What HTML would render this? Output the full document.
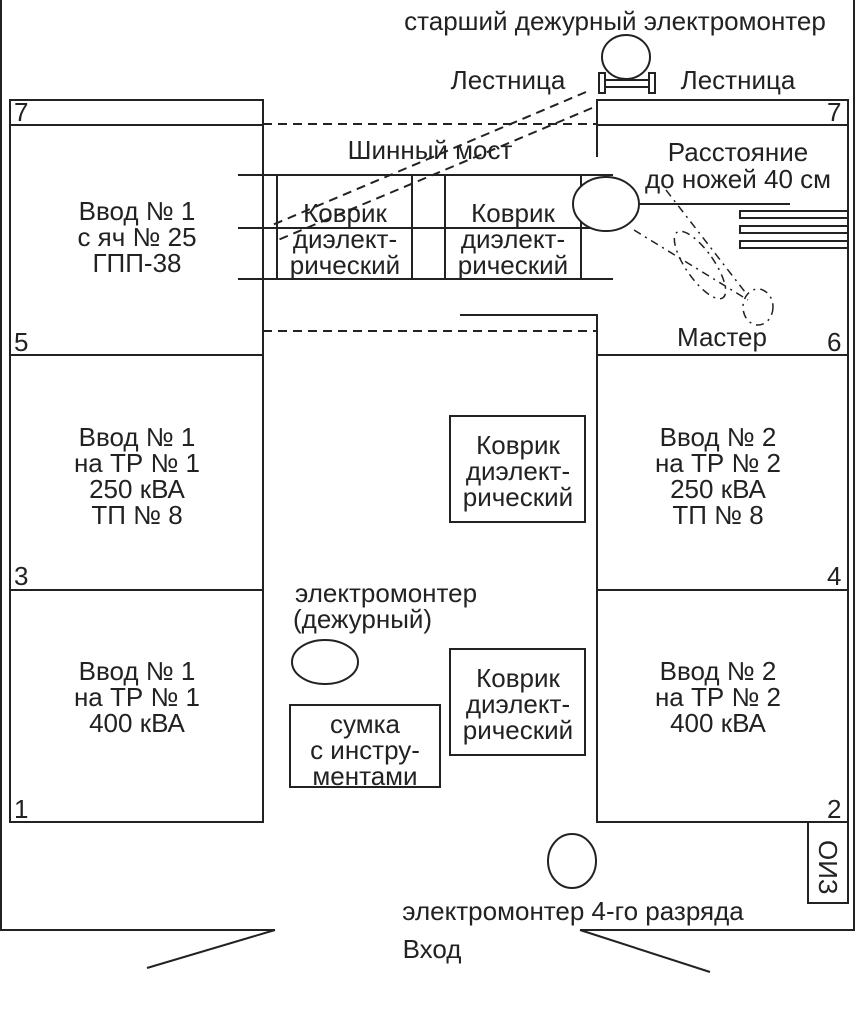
<!DOCTYPE html>
<html><head><meta charset="utf-8"><style>
html,body{margin:0;padding:0;background:#fff}
svg{display:block}
text{font-family:"Liberation Sans",sans-serif;font-size:26px;fill:#222}
</style></head><body>
<svg width="856" height="1024" viewBox="0 0 856 1024" xmlns="http://www.w3.org/2000/svg">
<g stroke="#222" stroke-width="2" fill="none">
<polyline points="1,0 1,930 275,930"/>
<polyline points="580,930 854,930 854,0"/>
<line x1="275" y1="930" x2="147" y2="968"/>
<line x1="580" y1="930" x2="710" y2="972"/>
<rect x="10" y="100" width="253" height="722"/>
<line x1="10" y1="125" x2="263" y2="125"/>
<line x1="10" y1="355" x2="263" y2="355"/>
<line x1="10" y1="590" x2="263" y2="590"/>
<polyline points="597,157 597,100 848,100 848,822 597,822 597,315 460,315"/>
<line x1="597" y1="125" x2="848" y2="125"/>
<line x1="597" y1="355" x2="848" y2="355"/>
<line x1="597" y1="590" x2="848" y2="590"/>
<line x1="263" y1="124" x2="596" y2="124" stroke-dasharray="9,6"/>
<line x1="263" y1="331" x2="596" y2="331" stroke-dasharray="9,6"/>
<line x1="586" y1="92" x2="270" y2="226" stroke-dasharray="9,6"/>
<line x1="592" y1="108" x2="278" y2="240" stroke-dasharray="9,6"/>
<line x1="238" y1="175" x2="613" y2="175"/>
<line x1="238" y1="228" x2="613" y2="228"/>
<line x1="238" y1="279" x2="613" y2="279"/>
<rect x="277" y="175" width="135" height="104"/>
<rect x="445" y="175" width="136" height="104"/>
<ellipse cx="606" cy="204" rx="33" ry="27" fill="#fff"/>
<line x1="639" y1="204" x2="790" y2="204"/>
<rect x="740" y="211" width="108" height="7"/>
<rect x="740" y="226" width="108" height="7"/>
<rect x="740" y="241" width="108" height="7"/>
<g stroke-dasharray="8,5,2,5" stroke-width="1.5">
<ellipse cx="758" cy="307" rx="15" ry="18"/>
<line x1="634" y1="230" x2="748" y2="300"/>
<line x1="666" y1="190" x2="745" y2="292"/>
<ellipse cx="700" cy="265" rx="14" ry="40" transform="rotate(-35 700 265)"/>
</g>
<ellipse cx="626" cy="57" rx="24" ry="22"/>
<rect x="599" y="73" width="6" height="20"/>
<rect x="649" y="73" width="6" height="20"/>
<rect x="605" y="80" width="44" height="7"/>
<rect x="450" y="416" width="135" height="106"/>
<rect x="450" y="649" width="135" height="106"/>
<rect x="290" y="705" width="150" height="82"/>
<ellipse cx="325" cy="662" rx="33" ry="22"/>
<ellipse cx="572" cy="861" rx="24" ry="27"/>
<rect x="808" y="822" width="40" height="81"/>
</g>
<g text-anchor="middle">
<text x="615" y="30">старший дежурный электромонтер</text>
<text x="508" y="89">Лестница</text>
<text x="738" y="89">Лестница</text>
<text x="430" y="159">Шинный мост</text>
<text x="738" y="161">Расстояние</text>
<text x="738" y="188">до ножей 40 см</text>
<text x="722" y="346">Мастер</text>
<text x="345" y="222">Коврик</text><text x="345" y="248">диэлект-</text><text x="345" y="274">рический</text>
<text x="513" y="222">Коврик</text><text x="513" y="248">диэлект-</text><text x="513" y="274">рический</text>
<text x="137" y="220">Ввод № 1</text><text x="137" y="246">с яч № 25</text><text x="137" y="272">ГПП-38</text>
<text x="137" y="446">Ввод № 1</text><text x="137" y="472">на ТР № 1</text><text x="137" y="498">250 кВА</text><text x="137" y="524">ТП № 8</text>
<text x="137" y="680">Ввод № 1</text><text x="137" y="706">на ТР № 1</text><text x="137" y="732">400 кВА</text>
<text x="718" y="446">Ввод № 2</text><text x="718" y="472">на ТР № 2</text><text x="718" y="498">250 кВА</text><text x="718" y="524">ТП № 8</text>
<text x="718" y="680">Ввод № 2</text><text x="718" y="706">на ТР № 2</text><text x="718" y="732">400 кВА</text>
<text x="518" y="454">Коврик</text><text x="518" y="480">диэлект-</text><text x="518" y="506">рический</text>
<text x="518" y="687">Коврик</text><text x="518" y="713">диэлект-</text><text x="518" y="739">рический</text>
<text x="365" y="733">сумка</text><text x="365" y="759">с инстру-</text><text x="365" y="785">ментами</text>
<text x="573" y="920">электромонтер 4-го разряда</text>
<text x="432" y="958">Вход</text>
</g>
<text x="295" y="602">электромонтер</text>
<text x="293" y="628">(дежурный)</text>
<text x="14" y="121">7</text><text x="827" y="121">7</text>
<text x="14" y="351">5</text><text x="827" y="351">6</text>
<text x="14" y="585">3</text><text x="827" y="585">4</text>
<text x="14" y="818">1</text><text x="827" y="818">2</text>
<text x="0" y="0" transform="translate(819,840) rotate(90)">ОИЗ</text>
</svg>
</body></html>
